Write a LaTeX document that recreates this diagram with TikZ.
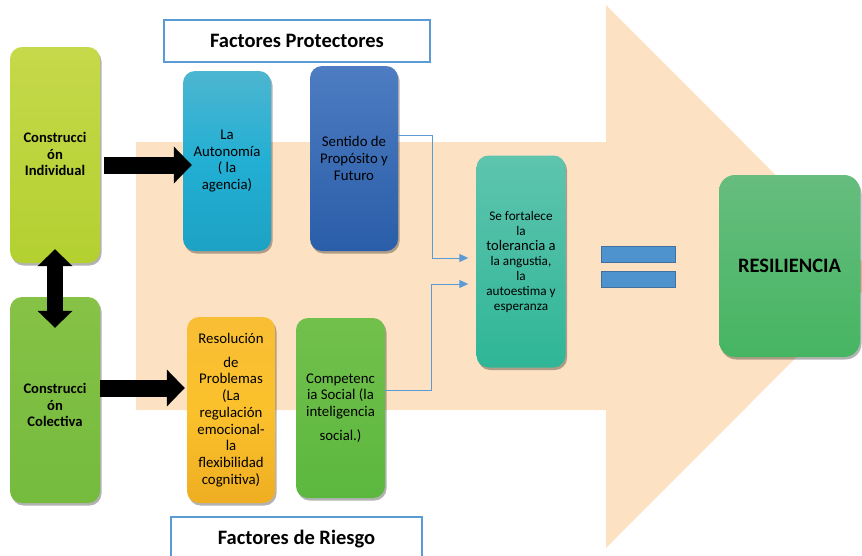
\documentclass[tikz,border=0pt]{standalone}
\usepackage{fontspec}
\setmainfont{Carlito}
\usetikzlibrary{arrows.meta,shadows,calc}
\definecolor{peach}{HTML}{FDE1C3}
\definecolor{conblue}{HTML}{5B9BD5}
\definecolor{eqfill}{HTML}{4F93CE}
\definecolor{eqline}{HTML}{41719C}
\definecolor{indT}{HTML}{C6D94A}\definecolor{indB}{HTML}{B3D030}
\definecolor{colT}{HTML}{86C246}\definecolor{colB}{HTML}{74BB3E}
\definecolor{autT}{HTML}{4DB6D0}\definecolor{autM}{HTML}{22AFD4}\definecolor{autB}{HTML}{1DA2C4}
\definecolor{senT}{HTML}{4D7CC2}\definecolor{senB}{HTML}{2A5EA8}
\definecolor{resT}{HTML}{F9BE34}\definecolor{resM}{HTML}{FBC12C}\definecolor{resB}{HTML}{EFAE22}
\definecolor{comT}{HTML}{72C04C}\definecolor{comB}{HTML}{5BB83F}
\definecolor{forT}{HTML}{5EC4AE}\definecolor{forB}{HTML}{2FB697}
\definecolor{rsiT}{HTML}{66BD7E}\definecolor{rsiB}{HTML}{46B562}
\tikzset{
  card/.style={rounded corners=12pt, draw=none, align=center, inner sep=2pt,
    drop shadow={shadow xshift=1.5pt, shadow yshift=-2.5pt, opacity=0.3, fill=black},
    font=\fontsize{14.8}{16.7}\selectfont},
  title/.style={draw=conblue, line width=1.4pt, fill=white, font=\fontsize{20.5}{24}\selectfont\bfseries},
  fat/.style={line width=17pt, -{Triangle[width=36pt,length=18pt]}},
  fatboth/.style={line width=16pt, {Triangle[width=34pt,length=17pt]}-{Triangle[width=34pt,length=17pt]}},
  conn/.style={draw=conblue, line width=0.9pt, -{Triangle[width=8pt,length=9pt]}, color=conblue},
  eqbar/.style={draw=eqline, line width=1pt, fill=eqfill, minimum width=74pt, minimum height=16pt, inner sep=0pt},
  boldlbl/.style={align=center, inner sep=0pt, font=\fontsize{14.6}{16.7}\selectfont\bfseries}
}
\begin{document}
\begin{tikzpicture}[x=1pt,y=-1pt]
\useasboundingbox (0,0) rectangle (862,555);
\clip (0,0) rectangle (862,555);
% big background arrow
\fill[peach] (136,142) -- (606,142) -- (606,5) -- (877,276.5) -- (606,548) -- (606,410) -- (136,410) -- cycle;

% title boxes
\node[title, minimum width=266pt, minimum height=42pt] (fp) at (297,41) {Factores Protectores};
\node[title, minimum width=251pt, minimum height=44pt] (fr) at (296.5,539) {Factores de Riesgo};

% left boxes
\node[card, top color=indT, bottom color=indB, minimum width=90pt, minimum height=216pt] (ind) at (55,155) {};
\node[boldlbl] (indtxt) at ($(ind.center)+(0,-1)$) {Construcci\\ón\\Individual};
\node[card, top color=colT, bottom color=colB, minimum width=90pt, minimum height=206pt] (col) at (55,400) {};
\node[boldlbl] (coltxt) at ($(col.center)+(0,5)$) {Construcci\\ón\\Colectiva};

% protective factors
\node[card, top color=autT, bottom color=autB, middle color=autM, minimum width=88pt, minimum height=180pt] (auto) at (227,161) {La\\Autonomía\\( la\\agencia)};
\node[card, top color=senT, bottom color=senB, minimum width=88pt, minimum height=185pt] (sent) at (354,158.5) {Sentido de\\Propósito y\\Futuro};

% risk factors
\node[card, top color=resT, bottom color=resB, middle color=resM, minimum width=88pt, minimum height=186pt] (reso) at (231,410) {Resolución\\[7pt]de\\Problemas\\(La\\regulación\\emocional-\\la\\flexibilidad\\cognitiva)};
\node[card, top color=comT, bottom color=comB, minimum width=89pt, minimum height=180pt] (comp) at (340.5,408) {Competenc\\ia Social (la\\inteligencia\\[7pt]social.)};

% result box
\node[card, top color=forT, bottom color=forB, minimum width=89pt, minimum height=212pt,
  font=\fontsize{13.2}{15}\selectfont] (fort) at (521,261.5) {Se fortalece\\la\\{\fontsize{14.6}{15}\selectfont tolerancia a}\\la angustia,\\la\\autoestima y\\esperanza};

% equals
\node[eqbar] (eq1) at (638,254) {};
\node[eqbar] (eq2) at (638,279) {};

% resilience
\node[card, top color=rsiT, bottom color=rsiB, minimum width=141pt, minimum height=182pt,
  rounded corners=16pt, font=\fontsize{20.5}{24}\selectfont\bfseries] (resi) at (789.5,266) {RESILIENCIA};

% black arrows
\draw[fat] ($(ind.east)+(4,10)$) -- ($(auto.west)+(9,4)$);
\draw[fat] ($(col.east)+(0,-12)$) -- ($(reso.west)+(-2,-22)$);
\draw[fatboth] ($(ind.south)+(0,-14)$) -- ($(col.north)+(0,31)$);

% blue connectors
\draw[conn] ($(sent.east)+(0,-23.5)$) -- ++(34,0) |- ($(fort.west)+(-8,-3.5)$);
\draw[conn] ($(comp.east)+(0,-18)$) -- ++(46,0) |- ($(fort.west)+(-8,22.5)$);
\end{tikzpicture}
\end{document}
